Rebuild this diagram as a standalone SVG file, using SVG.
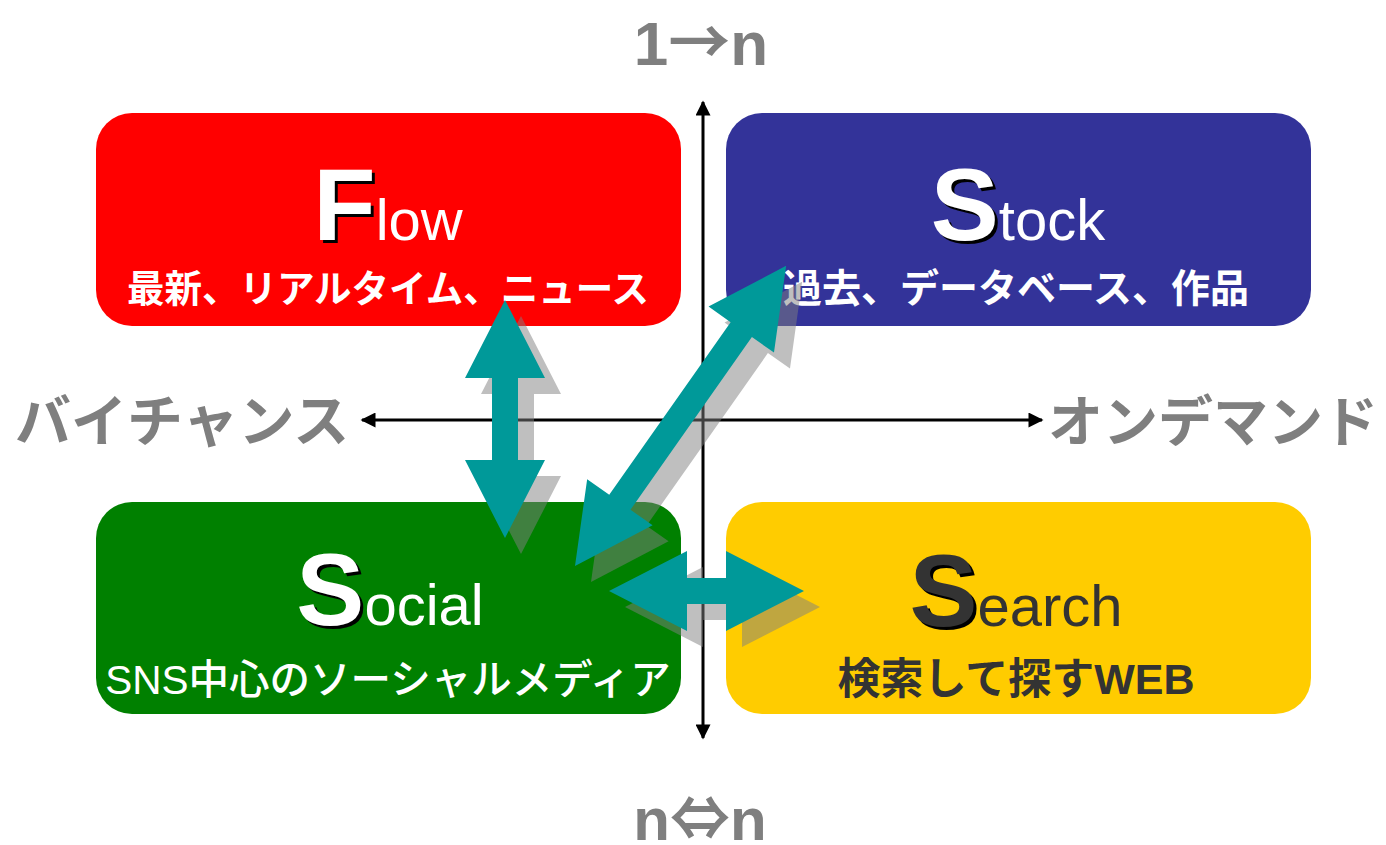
<svg xmlns="http://www.w3.org/2000/svg" width="1386" height="845" viewBox="0 0 1386 845">
<style>
.lbl{font-family:"Liberation Sans","Noto Sans CJK JP",sans-serif;font-weight:bold;fill:#7f7f7f}
.cjk{font-family:"Noto Sans CJK JP",sans-serif;font-weight:bold}
.big{font-family:"Liberation Sans",sans-serif;font-weight:bold;font-size:102px}
.small{font-family:"Liberation Sans",sans-serif;font-weight:normal;font-size:58px}
.sub{font-family:"Liberation Sans","Noto Sans CJK JP",sans-serif;font-weight:bold;text-anchor:middle}
.axis{stroke:#000;stroke-width:3;fill:none}
.arrow{fill:#009999}
.shadow{fill:#808080;opacity:0.5}
</style>
<defs>
<marker id="ah" viewBox="0 0 10 10" refX="9" refY="5" markerWidth="6" markerHeight="5" orient="auto-start-reverse" markerUnits="strokeWidth">
<path d="M0,0 L10,5 L0,10 z" fill="#000"/>
</marker>
</defs>
<rect width="1386" height="845" fill="#fff"/>

<g id="flow">
<rect x="96" y="113" width="585" height="213" rx="36" fill="#ff0000"/>
<text x="388" y="240" text-anchor="middle" transform="translate(3,3)"><tspan class="big" fill="#000">F</tspan><tspan class="small" fill="none">low</tspan></text>
<text x="388" y="240" text-anchor="middle"><tspan class="big" fill="#fff">F</tspan><tspan class="small" fill="#fff">low</tspan></text>
<text class="sub" x="388" y="302" font-size="37.5" fill="#fff">最新、リアルタイム、ニュース</text>
</g>

<g id="stock">
<rect x="726" y="113" width="585" height="213" rx="36" fill="#333399"/>
<text x="1018" y="240" text-anchor="middle" transform="translate(3,3)"><tspan class="big" fill="#000">S</tspan><tspan class="small" fill="none">tock</tspan></text>
<text x="1018" y="240" text-anchor="middle"><tspan class="big" fill="#fff">S</tspan><tspan class="small" fill="#fff">tock</tspan></text>
<text class="sub" x="1016" y="302" font-size="39" fill="#fff">過去、データベース、作品</text>
</g>

<g id="social">
<rect x="96" y="502" width="585" height="212" rx="36" fill="#008000"/>
<text x="390" y="625" text-anchor="middle" transform="translate(3,3)"><tspan class="big" fill="#000">S</tspan><tspan class="small" fill="none">ocial</tspan></text>
<text x="390" y="625" text-anchor="middle"><tspan class="big" fill="#fff">S</tspan><tspan class="small" fill="#fff">ocial</tspan></text>
<text class="sub" x="388" y="694" font-size="40.5" style="font-weight:500" fill="#fff">SNS中心のソーシャルメディア</text>
</g>

<g id="search">
<rect x="726" y="502" width="585" height="212" rx="36" fill="#ffcc00"/>
<text x="1016" y="626" text-anchor="middle" transform="translate(3,3)"><tspan class="big" fill="#000">S</tspan><tspan class="small" fill="none">earch</tspan></text>
<text x="1016" y="626" text-anchor="middle"><tspan class="big" fill="#333">S</tspan><tspan class="small" fill="#333">earch</tspan></text>
<text class="sub" x="1016" y="694" font-size="43" fill="#333">検索して探すWEB</text>
</g>

<g id="axes">
<line class="axis" x1="703" y1="738" x2="703" y2="102" marker-start="url(#ah)" marker-end="url(#ah)"/>
<line class="axis" x1="362" y1="420" x2="1042" y2="420" marker-start="url(#ah)" marker-end="url(#ah)"/>
</g>

<g id="labels">
<text class="lbl" x="701" y="65" font-size="62" text-anchor="middle">1<tspan class="cjk">→</tspan>n</text>
<text class="lbl" x="700" y="840" font-size="60" text-anchor="middle">n<tspan class="cjk">⇔</tspan>n</text>
<text class="lbl" x="15" y="441" font-size="56">バイチャンス</text>
<text class="lbl" x="1048" y="441" font-size="55">オンデマンド</text>
</g>

<g id="connectors">
<g transform="translate(16,16)">
<polygon class="shadow" points="505,300 545,378 518,378 518,460 545,460 505,538 465,460 492,460 492,378 465,378"/>
<polygon class="shadow" transform="translate(575,566) rotate(-54.88)" points="0,0 78,-40 78,-13 289,-13 289,-40 367,0 289,40 289,13 78,13 78,40"/>
<polygon class="shadow" points="609,591 687,551 687,578 726,578 726,551 804,591 726,631 726,604 687,604 687,631"/>
</g>
<polygon class="arrow" points="505,300 545,378 518,378 518,460 545,460 505,538 465,460 492,460 492,378 465,378"/>
<polygon class="arrow" transform="translate(575,566) rotate(-54.88)" points="0,0 78,-40 78,-13 289,-13 289,-40 367,0 289,40 289,13 78,13 78,40"/>
<polygon class="arrow" points="609,591 687,551 687,578 726,578 726,551 804,591 726,631 726,604 687,604 687,631"/>
</g>
</svg>
